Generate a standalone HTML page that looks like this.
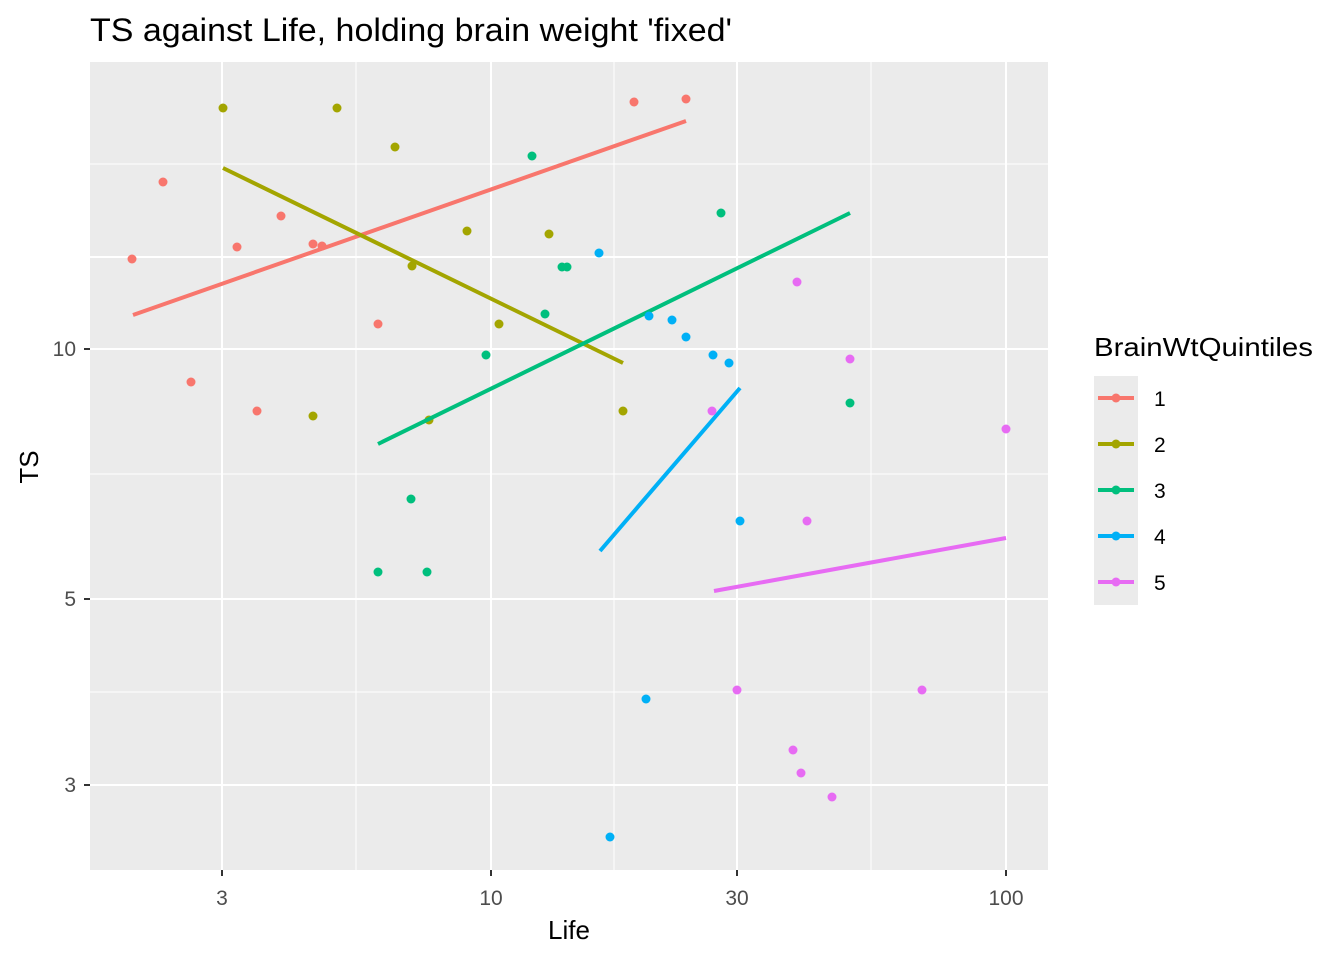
<!DOCTYPE html>
<html><head><style>body{margin:0;background:#fff}svg{display:block}</style></head><body>
<svg width="1344" height="960" xmlns="http://www.w3.org/2000/svg" font-family="Liberation Sans, Arial, sans-serif">
<rect width="1344" height="960" fill="#fff"/>
<rect x="90" y="62" width="958" height="808" fill="#EBEBEB"/>
<g stroke="#fff" stroke-width="1">
<line x1="356" x2="356" y1="62" y2="870"/><line x1="614" x2="614" y1="62" y2="870"/><line x1="871" x2="871" y1="62" y2="870"/>
<line x1="90" x2="1048" y1="164" y2="164"/><line x1="90" x2="1048" y1="474" y2="474"/><line x1="90" x2="1048" y1="692" y2="692"/>
</g>
<g stroke="#fff" stroke-width="2">
<line x1="222" x2="222" y1="62" y2="870"/><line x1="491" x2="491" y1="62" y2="870"/><line x1="737" x2="737" y1="62" y2="870"/><line x1="1006" x2="1006" y1="62" y2="870"/>
<line x1="90" x2="1048" y1="257" y2="257"/><line x1="90" x2="1048" y1="349" y2="349"/><line x1="90" x2="1048" y1="599" y2="599"/><line x1="90" x2="1048" y1="785" y2="785"/>
</g>
<g fill="#F8766D"><circle cx="132" cy="259" r="4.5"/><circle cx="163" cy="182" r="4.5"/><circle cx="237" cy="247" r="4.5"/><circle cx="281" cy="216" r="4.5"/><circle cx="313" cy="244" r="4.5"/><circle cx="322" cy="246" r="4.5"/><circle cx="191" cy="382" r="4.5"/><circle cx="257" cy="411" r="4.5"/><circle cx="378" cy="324" r="4.5"/><circle cx="634" cy="102" r="4.5"/><circle cx="686" cy="99" r="4.5"/></g>
<line x1="133" y1="315" x2="686" y2="121" stroke="#F8766D" stroke-width="4"/>
<g fill="#A3A500"><circle cx="223" cy="108" r="4.5"/><circle cx="337" cy="108" r="4.5"/><circle cx="395" cy="147" r="4.5"/><circle cx="467" cy="231" r="4.5"/><circle cx="549" cy="234" r="4.5"/><circle cx="412" cy="266" r="4.5"/><circle cx="499" cy="324" r="4.5"/><circle cx="313" cy="416" r="4.5"/><circle cx="429" cy="420" r="4.5"/><circle cx="623" cy="411" r="4.5"/></g>
<line x1="223" y1="168" x2="623" y2="363" stroke="#A3A500" stroke-width="4"/>
<g fill="#00BF7D"><circle cx="532" cy="156" r="4.5"/><circle cx="721" cy="213" r="4.5"/><circle cx="562" cy="267" r="4.5"/><circle cx="567" cy="267" r="4.5"/><circle cx="545" cy="314" r="4.5"/><circle cx="486" cy="355" r="4.5"/><circle cx="411" cy="499" r="4.5"/><circle cx="378" cy="572" r="4.5"/><circle cx="427" cy="572" r="4.5"/><circle cx="850" cy="403" r="4.5"/></g>
<line x1="378" y1="444" x2="850" y2="213" stroke="#00BF7D" stroke-width="4"/>
<g fill="#00B0F6"><circle cx="599" cy="253" r="4.5"/><circle cx="649" cy="316" r="4.5"/><circle cx="672" cy="320" r="4.5"/><circle cx="686" cy="337" r="4.5"/><circle cx="713" cy="355" r="4.5"/><circle cx="729" cy="363" r="4.5"/><circle cx="740" cy="521" r="4.5"/><circle cx="646" cy="699" r="4.5"/><circle cx="610" cy="837" r="4.5"/></g>
<line x1="600" y1="551" x2="740" y2="388" stroke="#00B0F6" stroke-width="4"/>
<g fill="#E76BF3"><circle cx="797" cy="282" r="4.5"/><circle cx="850" cy="359" r="4.5"/><circle cx="712" cy="411" r="4.5"/><circle cx="1006" cy="429" r="4.5"/><circle cx="807" cy="521" r="4.5"/><circle cx="737" cy="690" r="4.5"/><circle cx="922" cy="690" r="4.5"/><circle cx="793" cy="750" r="4.5"/><circle cx="801" cy="773" r="4.5"/><circle cx="832" cy="797" r="4.5"/></g>
<line x1="714" y1="591" x2="1006" y2="538" stroke="#E76BF3" stroke-width="4"/>
<g stroke="#333" stroke-width="2"><line x1="222" x2="222" y1="870" y2="876"/><line x1="491" x2="491" y1="870" y2="876"/><line x1="737" x2="737" y1="870" y2="876"/><line x1="1006" x2="1006" y1="870" y2="876"/>
<line x1="84" x2="90" y1="349" y2="349"/><line x1="84" x2="90" y1="599" y2="599"/><line x1="84" x2="90" y1="785" y2="785"/></g>
<g fill="#4D4D4D" font-size="21" text-anchor="middle"><text x="222" y="905">3</text><text x="491" y="905">10</text><text x="737" y="905">30</text><text x="1006" y="905">100</text></g>
<g fill="#4D4D4D" font-size="21" text-anchor="end"><text x="76" y="356">10</text><text x="76" y="606">5</text><text x="76" y="792">3</text></g>
<text x="569" y="939" font-size="26" text-anchor="middle" fill="#000">Life</text>
<text transform="translate(38,467) rotate(-90)" font-size="26" text-anchor="middle" fill="#000">TS</text>
<text x="90" y="41" font-size="32" fill="#000" textLength="642" lengthAdjust="spacingAndGlyphs">TS against Life, holding brain weight 'fixed'</text>
<text x="1094" y="356" font-size="26" fill="#000" textLength="219" lengthAdjust="spacingAndGlyphs">BrainWtQuintiles</text>
<rect x="1094" y="376" width="44" height="229" fill="#EBEBEB"/>
<g stroke-width="4">
<line x1="1098" x2="1134" y1="398" y2="398" stroke="#F8766D"/><circle cx="1116" cy="398" r="4.5" fill="#F8766D"/>
<line x1="1098" x2="1134" y1="444" y2="444" stroke="#A3A500"/><circle cx="1116" cy="444" r="4.5" fill="#A3A500"/>
<line x1="1098" x2="1134" y1="490" y2="490" stroke="#00BF7D"/><circle cx="1116" cy="490" r="4.5" fill="#00BF7D"/>
<line x1="1098" x2="1134" y1="536" y2="536" stroke="#00B0F6"/><circle cx="1116" cy="536" r="4.5" fill="#00B0F6"/>
<line x1="1098" x2="1134" y1="582" y2="582" stroke="#E76BF3"/><circle cx="1116" cy="582" r="4.5" fill="#E76BF3"/>
</g>
<g font-size="21" fill="#000"><text x="1154" y="406">1</text><text x="1154" y="452">2</text><text x="1154" y="498">3</text><text x="1154" y="544">4</text><text x="1154" y="590">5</text></g>
</svg>
</body></html>
